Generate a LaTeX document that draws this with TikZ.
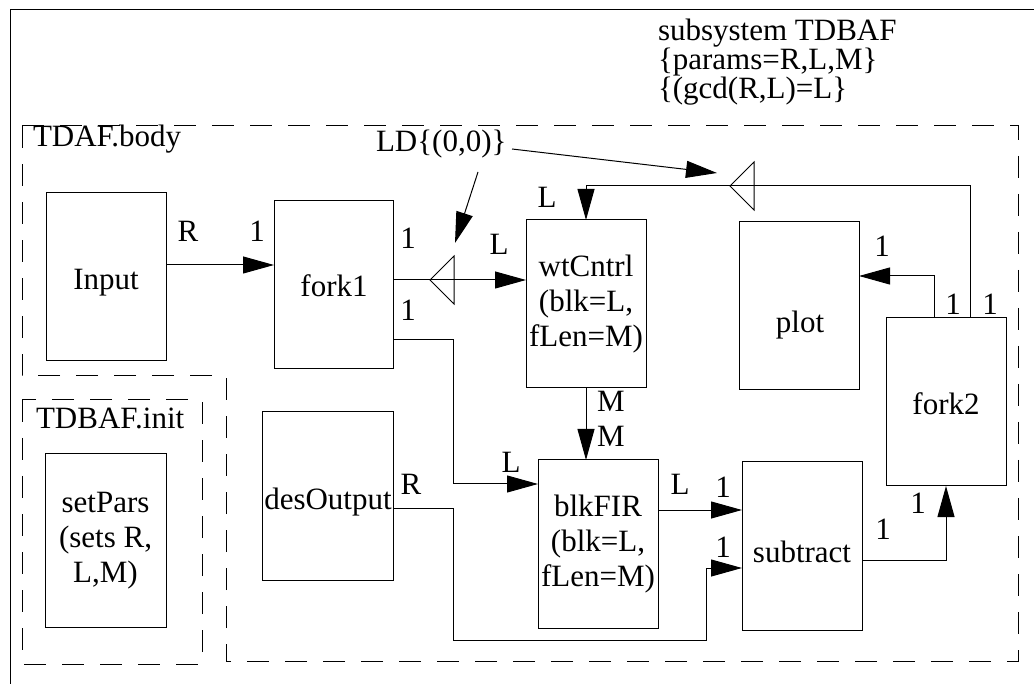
\documentclass[tikz,border=0pt]{standalone}
\usepackage{fontspec}
\setmainfont{Liberation Serif}
\usetikzlibrary{arrows.meta}
\begin{document}
\begin{tikzpicture}[x=1pt,y=-1pt,
  every node/.style={font=\fontsize{31}{35}\selectfont, inner sep=0pt, outer sep=0pt},
  blk/.style={draw, line width=1pt, anchor=north west, align=center, minimum height=168pt, minimum width=120pt},
  wire/.style={line width=1pt},
  arr/.style={wire, -{Triangle[length=31pt,width=17pt]}},
  lbl/.style={anchor=base},
  grp/.style={line width=1pt, dash pattern=on 22pt off 16pt},
  titletext/.style={anchor=base west, font=\fontsize{31}{29}\selectfont},
  titleline/.style={titletext, text height=0.66em, text depth=0.2em},
]
\useasboundingbox (0,0) rectangle (1034,684);
% outer frame (cropped)
\draw[line width=1pt] (10,690) -- (10,10) -- (1040,10);
% groups
\draw[grp] (22,126) -- (1018,126) -- (1018,661) -- (226,661) -- (226,376) -- (22,376) -- cycle;
\draw[grp] (22,400) rectangle (202,664);
\node[titletext] (bodyT) at (33,147) {TDAF.body};
\node[titletext] (initT) at (36,429) {TDBAF.init};
\node[titleline] (sub1) at (658,41) {subsystem TDBAF};
\node[titleline] (sub2) at (658,70) {\{params=R,L,M\}};
\node[titleline] (sub3) at (658,99) {\{(gcd(R,L)=L\}};
\node[titletext] (LD) at (376,152) {LD\{(0,0)\}};

% blocks
\node[blk] (Input) at (46,193) {};
\node[lbl] (InputT) at (106,290) {Input};
\node[blk, minimum width=119pt] (fork1) at (274,201) {};
\node[lbl] (fork1T) at (334,297) {fork1};
\node[blk] (wtCntrl) at (526,220) {wtCntrl\\(blk=L,\\fLen=M)};
\node[blk] (plot) at (739,222) {};
\node[lbl] (plotT) at (800,333) {plot};
\node[blk] (fork2) at (886,318) {};
\node[lbl] (fork2T) at (946,415) {fork2};
\node[blk, minimum width=131pt] (desOutput) at (262,412) {};
\node[lbl] (desOutputT) at (328,510) {desOutput};
\node[blk] (blkFIR) at (538,460) {blkFIR\\(blk=L,\\fLen=M)};
\node[blk] (subtract) at (742,462) {};
\node[lbl] (subtractT) at (802,562) {subtract};
\node[blk, minimum width=121pt, minimum height=173pt] (setPars) at (45,454) {setPars\\(sets R,\\L,M)};

% delay triangles
\coordinate (d1) at (442,280);
\coordinate (d2) at (742,186);
\draw[wire] (430,280) -- (454,256) -- (454,304) -- cycle;
\draw[wire] (730,186) -- (754,162) -- (754,210) -- cycle;

% connectors
\draw[arr] (Input.east |- 0,265) -- (fork1.west |- 0,265);
\draw[arr] (fork1.east |- 0,280) -- (wtCntrl.west |- 0,280);
\draw[arr] (fork1.east |- 0,340) -| (453,484) -- (blkFIR.west |- 0,484);
\draw[arr] (wtCntrl.south) -- (wtCntrl.south |- blkFIR.north);
\draw[arr] (blkFIR.east |- 0,510) -- (subtract.west |- 0,510);
\draw[arr] (desOutput.east |- 0,508) -| (453,640) -| (706,568) -- (subtract.west |- 0,568);
\draw[arr] (subtract.east |- 0,560) -| (fork2.south);
\draw[arr] (fork2.north -| 934,0) |- (plot.east |- 0,276);
\draw[arr] (fork2.north -| 970,0) |- (586,186) -- (wtCntrl.north);

% annotation arrows
\coordinate (ldA) at (478,172);
\coordinate (ldB) at (512,149);
\coordinate (d1top) at (455,243);
\coordinate (d2left) at (717,173);
\draw[arr] (ldA) -- (d1top);
\draw[arr] (ldB) -- (d2left);

% port labels
\node[lbl] (l1) at (188,242) {R};
\node[lbl] (l2) at (257,242) {1};
\node[lbl] (l3) at (408,249) {1};
\node[lbl] (l4) at (408,321) {1};
\node[lbl] (l5) at (499,255) {L};
\node[lbl] (l6) at (547,208) {L};
\node[lbl] (l7) at (611,412) {M};
\node[lbl] (l8) at (611,447) {M};
\node[lbl] (l9) at (511,472) {L};
\node[lbl] (l10) at (411,495) {R};
\node[lbl] (l11) at (680,495) {L};
\node[lbl] (l12) at (723,497) {1};
\node[lbl] (l13) at (723,557) {1};
\node[lbl] (l14) at (883,539) {1};
\node[lbl] (l15) at (918,513) {1};
\node[lbl] (l16) at (882,257) {1};
\node[lbl] (l17) at (953,315) {1};
\node[lbl] (l18) at (990,315) {1};
\end{tikzpicture}
\end{document}
